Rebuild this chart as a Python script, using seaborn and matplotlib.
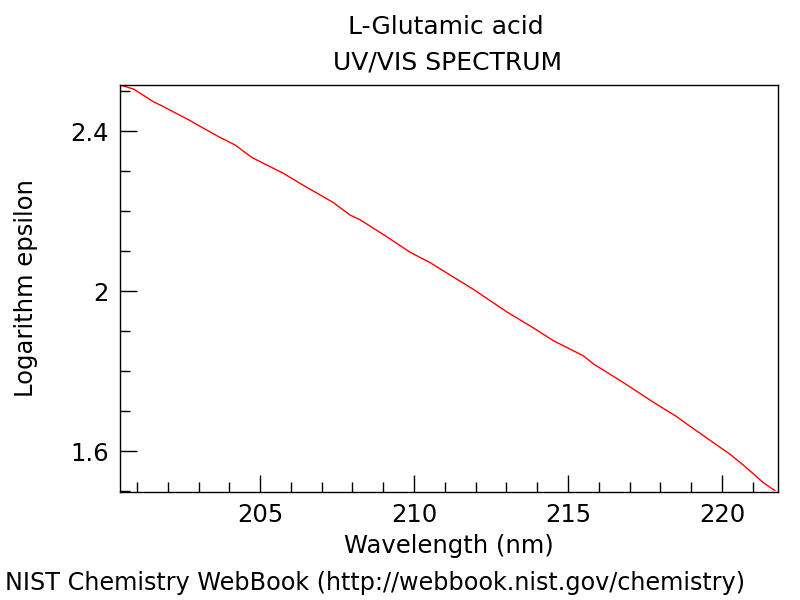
import matplotlib
matplotlib.use("Agg")
import matplotlib.pyplot as plt
import seaborn as sns
import pandas as pd
from matplotlib.ticker import MultipleLocator

wavelength = [200.45, 200.89, 201.54, 201.86, 202.73, 203.16, 203.70, 204.19, 204.73,
              205.32, 205.76, 206.30, 207.38, 207.92, 208.25, 209.11, 209.87, 210.52,
              211.17, 211.93, 213.01, 213.87, 214.52, 215.50, 215.82, 216.80, 217.77,
              218.53, 218.85, 219.72, 220.26, 220.69, 221.02, 221.34, 221.72]
log_eps = [2.515, 2.505, 2.473, 2.461, 2.426, 2.407, 2.384, 2.365, 2.334,
           2.311, 2.294, 2.269, 2.221, 2.190, 2.178, 2.136, 2.097, 2.071,
           2.040, 2.004, 1.948, 1.908, 1.876, 1.838, 1.818, 1.771, 1.722,
           1.686, 1.668, 1.621, 1.592, 1.565, 1.543, 1.521, 1.501]
x_ticks = [205, 210, 215, 220]
y_ticks = [1.6, 2.0, 2.4]
y_tick_labels = ["1.6", "2", "2.4"]

df = pd.DataFrame({"wl": wavelength, "le": log_eps})

sns.set_style("white")
plt.rcParams["font.family"] = ["DejaVu Sans"]
plt.rcParams["text.color"] = "black"
plt.rcParams["axes.labelcolor"] = "black"
plt.rcParams["xtick.color"] = "black"
plt.rcParams["ytick.color"] = "black"

fs = 17.5

fig = plt.figure(figsize=(8, 6), dpi=100)
ax = fig.add_axes([0.15, 0.18, 0.8225, 0.6783])
sns.lineplot(data=df, x="wl", y="le", ax=ax, color="#ff0000", linewidth=1)

ax.set_xlim(200.45, 221.82)
ax.set_ylim(1.4975, 2.515)
ax.set_xticks(x_ticks)
ax.set_yticks(y_ticks)
ax.set_yticklabels(y_tick_labels)
ax.xaxis.set_minor_locator(MultipleLocator(1))
ax.yaxis.set_minor_locator(MultipleLocator(0.1))
ax.tick_params(which="major", direction="in", length=12, width=1, labelsize=fs,
               bottom=True, left=True, pad=8)
ax.tick_params(which="minor", direction="in", length=7, width=1,
               bottom=True, left=True)
for s in ax.spines.values():
    s.set_color("black")
    s.set_linewidth(1)

ax.set_xlabel("Wavelength (nm)", fontsize=fs, labelpad=5)
ax.set_ylabel("Logarithm epsilon", fontsize=fs, labelpad=23)
fig.text(0.557, 0.955, "L-Glutamic acid", ha="center", va="center", fontsize=18)
fig.text(0.559, 0.896, "UV/VIS SPECTRUM", ha="center", va="center", fontsize=18)
fig.text(0.006, 0.028, "NIST Chemistry WebBook (http://webbook.nist.gov/chemistry)",
         ha="left", va="center", fontsize=17.2)

fig.savefig("out.png", dpi=100)
